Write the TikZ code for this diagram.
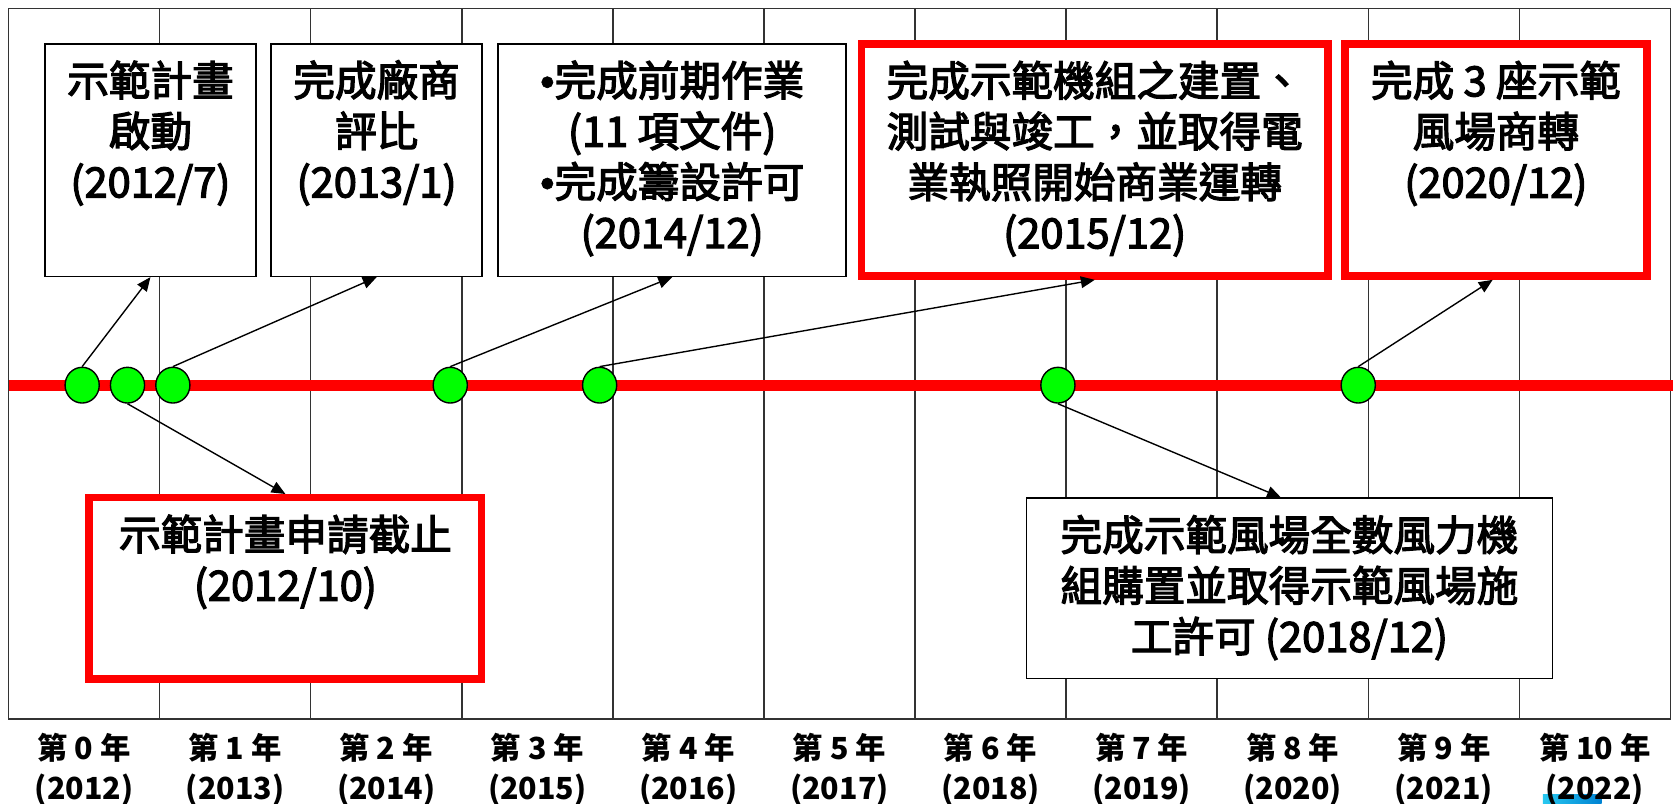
\documentclass[tikz,border=0pt]{standalone}
\usepackage{fontspec}
\setmainfont{Noto Sans CJK TC}
\newfontfamily\boxfont[FakeBold=3]{Noto Sans CJK TC}
\newfontfamily\bulletfont[FakeBold=1.4]{Liberation Sans}
\usetikzlibrary{arrows.meta,shapes.geometric}
\newcommand{\bxt}[3]{\parbox[c][#2][t]{#1}{\centering\boxfont\fontsize{39pt}{47.5pt}\selectfont\rule{0pt}{49pt}#3}}
\newcommand{\blt}{{\bulletfont •}}
\definecolor{logoA}{RGB}{40,200,240}
\definecolor{logoB}{RGB}{0,130,210}
\begin{document}
\begin{tikzpicture}[x=1pt,y=-1pt,
  gridline/.style={line width=1.4pt,draw=black!80},
  bbox/.style={draw=black,line width=1.5pt,fill=white,inner sep=0pt},
  rbox/.style={draw=red,line width=7pt,fill=white,inner sep=0pt},
  dot/.style={ellipse,draw=black,line width=1.3pt,fill=green,minimum width=32pt,minimum height=33.5pt,inner sep=0pt},
  conn/.style={draw=black,line width=1.3pt,-{Triangle[length=13pt,width=11pt]}},
  yearlab/.style={font=\bfseries\fontsize{28.5pt}{37pt}\selectfont,align=center,inner sep=0pt}]
\fill[white] (0,0) rectangle (1568,753.5);
\useasboundingbox (0,0) rectangle (1568,753.5);
% grid
\draw[gridline] (8,8) rectangle (1565.6,674);
\foreach \k in {1,...,10} \draw[gridline] ({8+141.6*\k},8) -- ({8+141.6*\k},674);
% logo fragment
\shade[left color=logoA,right color=logoB] (1446,745) rectangle (1501,753.5);
% year labels
\foreach \k [evaluate=\k as \y using int(2012+\k)] in {0,...,10}
  \node[yearlab] (yr\k) at ({8+141.6*(\k+0.5)},721) {第 \k{} 年\\(\y)};
% timeline
\draw[red,line width=10.5pt] (8,361) -- (1568,361);
% boxes
\node[bbox] (b1) at (141,150) {\bxt{198pt}{218pt}{示範計畫\\啟動\\(2012/7)}};
\node[bbox] (b2) at (353,150) {\bxt{198pt}{218pt}{完成廠商\\評比\\(2013/1)}};
\node[bbox] (b3) at (630,150) {\bxt{326pt}{218pt}{\blt 完成前期作業\\(11 項文件)\\\blt 完成籌設許可\\(2014/12)}};
\node[rbox] (b4) at (1026,150) {\bxt{437pt}{217.5pt}{完成示範機組之建置、\\測試與竣工，並取得電\\業執照開始商業運轉\\(2015/12)}};
\node[rbox] (b5) at (1402,150) {\bxt{283pt}{217.5pt}{完成 3 座示範\\風場商轉\\(2020/12)}};
\node[rbox] (b6) at (267.5,551.5) {\bxt{368pt}{170pt}{示範計畫申請截止\\(2012/10)}};
\node[bbox] (b7) at (1208.5,551.5) {\bxt{493pt}{169pt}{完成示範風場全數風力機\\組購置並取得示範風場施\\工許可 (2018/12)}};
% milestones
\foreach \n/\x in {1/77,2/119.5,3/162,4/422,5/562,6/991.5,7/1273}
  \node[dot] (c\n) at (\x,361) {};
% connectors
\draw[conn] (c1.north) -- (b1.south);
\draw[conn] (c3.north) -- (b2.south);
\draw[conn] (c4.north) -- (b3.south);
\draw[conn] (c5.north) -- (b4.south);
\draw[conn] (c7.north) -- ([xshift=-3pt]b5.south);
\draw[conn] (c2.south) -- (b6.north);
\draw[conn] (c6.south) -- ([xshift=-8pt]b7.north);
\end{tikzpicture}
\end{document}
